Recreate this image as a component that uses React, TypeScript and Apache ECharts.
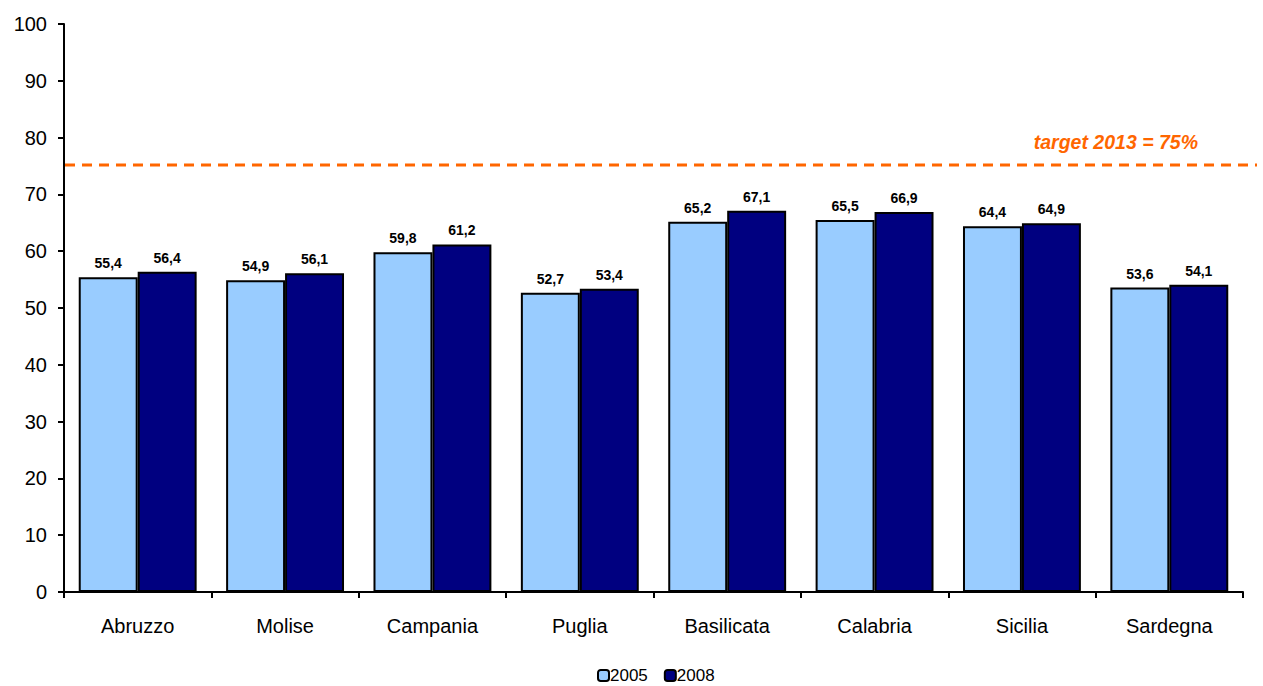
import React, { useEffect, useRef } from "react";
import * as echarts from "echarts";

const categories = ["Abruzzo", "Molise", "Campania", "Puglia", "Basilicata", "Calabria", "Sicilia", "Sardegna"];
const values2005 = [55.4, 54.9, 59.8, 52.7, 65.2, 65.5, 64.4, 53.6];
const values2008 = [56.4, 56.1, 61.2, 53.4, 67.1, 66.9, 64.9, 54.1];
const targetValue = 75;
const targetLabel = "target 2013 = 75%";

const fmt = (v: number) => v.toFixed(1).replace(".", ",");

export default function App() {
  const ref = useRef<HTMLDivElement>(null);
  useEffect(() => {
    document.body.style.margin = "0";
    document.body.style.overflow = "hidden";
    if (!ref.current) return;
    const chart = echarts.init(ref.current, null, { renderer: "svg" });
    const font = "'Liberation Sans', Arial, sans-serif";
    const labelCfg = {
      show: true,
      position: "top" as const,
      distance: 7,
      fontFamily: font,
      fontWeight: "bold" as const,
      fontSize: 14,
      color: "#000",
      formatter: (p: any) => fmt(p.value),
    };
    chart.setOption({
      animation: false,
      textStyle: { fontFamily: font },
      grid: { left: 64, right: 20, top: 24, bottom: 94 },
      legend: {
        top: 662,
        left: 592,
        padding: [5, 5, 5, 5],
        itemWidth: 11,
        itemHeight: 11,
        itemGap: 16,
        textStyle: { fontFamily: font, fontSize: 17, color: "#000", padding: [0, 0, 0, -4] },
        data: [
          { name: "2005", itemStyle: { borderColor: "#000", borderWidth: 2 } },
          { name: "2008", itemStyle: { borderColor: "#000", borderWidth: 2 } },
        ],
      },
      xAxis: {
        type: "category",
        data: categories,
        axisLine: { lineStyle: { color: "#000", width: 2 } },
        axisTick: { show: true, alignWithLabel: false, length: 6, lineStyle: { color: "#000", width: 2 } },
        axisLabel: { fontFamily: font, fontSize: 20, color: "#000", margin: 24 },
      },
      yAxis: {
        type: "value",
        min: 0,
        max: 100,
        interval: 10,
        splitLine: { show: false },
        axisLine: { show: true, lineStyle: { color: "#000", width: 2 } },
        axisTick: { show: true, length: 6, lineStyle: { color: "#000", width: 2 } },
        axisLabel: { fontFamily: font, fontSize: 20, color: "#000", margin: 17 },
      },
      series: [
        {
          name: "2005",
          type: "bar",
          data: values2005,
          barGap: "0%",
          barCategoryGap: "20%",
          itemStyle: { color: "#99CCFF", borderColor: "#000", borderWidth: 2 },
          label: labelCfg,
        },
        {
          name: "2008",
          type: "bar",
          data: values2008,
          barGap: "0%",
          barCategoryGap: "20%",
          itemStyle: { color: "#000080", borderColor: "#000", borderWidth: 2 },
          label: labelCfg,
        },
      ],
    });
    const y = chart.convertToPixel({ yAxisIndex: 0 }, targetValue) as number;
    const y0 = chart.convertToPixel({ yAxisIndex: 0 }, 0) as number;
    chart.setOption({
      graphic: [
        {
          type: "line",
          z: 10,
          shape: { x1: 58, y1: y0, x2: 64, y2: y0 },
          style: { stroke: "#000", lineWidth: 2 },
        },
        {
          type: "line",
          z: 10,
          shape: { x1: 65, y1: y - 1, x2: 1257, y2: y - 1 },
          style: { stroke: "#FF6600", lineWidth: 3, lineDash: [10, 7] },
        },
        {
          type: "text",
          z: 10,
          x: 1198,
          y: y - 24,
          style: {
            text: targetLabel,
            align: "right",
            verticalAlign: "middle",
            fill: "#FF6600",
            fontFamily: font,
            fontSize: 19.5,
            fontWeight: "bold",
            fontStyle: "italic",
          },
        },
      ],
    });
    return () => chart.dispose();
  }, []);
  return <div ref={ref} style={{ width: 1263, height: 686 }} />;
}
